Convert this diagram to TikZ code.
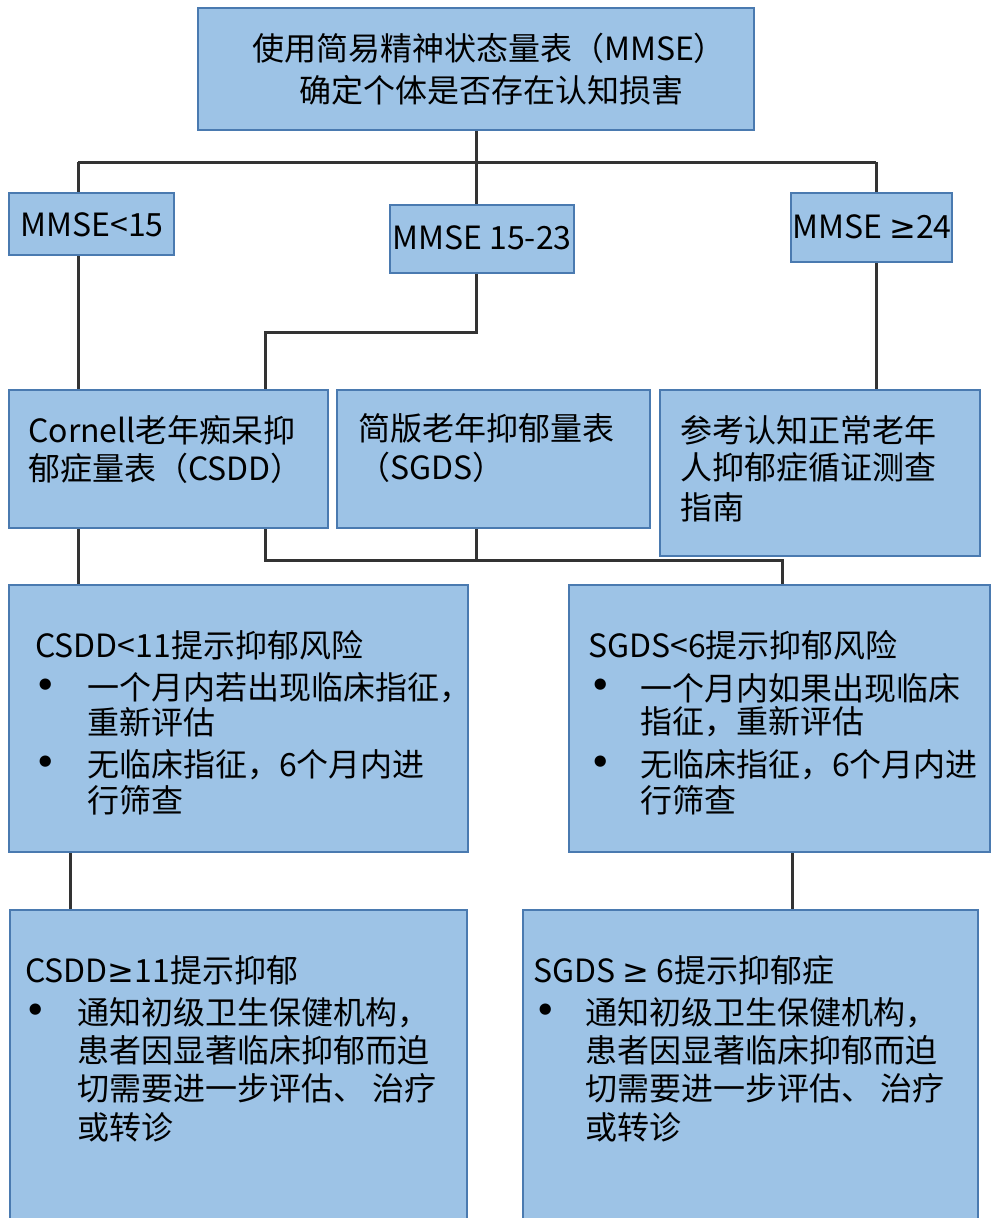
\documentclass[tikz,border=0pt]{standalone}
\usepackage{fontspec}
\setmainfont{Noto Sans CJK SC}
\newfontfamily\symf{DejaVu Sans}
\newcommand\mygeq{{\symf ≥}}
\newcommand\mybul{{\symf\bfseries •}}
\definecolor{boxfill}{HTML}{9DC3E6}
\definecolor{boxline}{HTML}{4A7AB0}
\definecolor{connc}{HTML}{333333}
\tikzset{
  box/.style={draw=boxline, fill=boxfill, line width=2pt, inner sep=0pt},
  conn/.style={draw=connc, line width=3pt},
  txt/.style={font=\fontsize{32}{38}\selectfont, inner sep=0pt, anchor=west, text=black},
  ctxt/.style={txt, anchor=center}
}
\begin{document}
\begin{tikzpicture}[x=1pt,y=-1pt]
\useasboundingbox (0,0) rectangle (992,1218);
\clip (0,0) rectangle (992,1218);
% boxes
\node[box, minimum width=556pt, minimum height=122pt] (top) at (476,69) {};
\node[box, minimum width=165pt, minimum height=62pt] (m1) at (91.5,224) {};
\node[box, minimum width=184pt, minimum height=68pt] (m2) at (482,239) {};
\node[box, minimum width=161pt, minimum height=69pt] (m3) at (871.5,227.5) {};
\node[box, minimum width=319pt, minimum height=138pt] (c1) at (168.5,459) {};
\node[box, minimum width=313pt, minimum height=138pt] (c2) at (493.5,459) {};
\node[box, minimum width=320pt, minimum height=166pt] (c3) at (820,473) {};
\node[box, minimum width=459pt, minimum height=267pt] (r1) at (238.5,718.5) {};
\node[box, minimum width=421pt, minimum height=267pt] (r2) at (779.5,718.5) {};
\node[box, minimum width=457pt, minimum height=330pt] (b1) at (238.5,1075) {};
\node[box, minimum width=455pt, minimum height=330pt] (b2) at (750.5,1075) {};
% connector joints
\coordinate (jL) at (78,162);
\coordinate (jM) at (476,162);
\coordinate (jR) at (876,162);
\coordinate (k1) at (476,332);
\coordinate (k2) at (265,332);
\coordinate (h1) at (265,560);
\coordinate (h2) at (476,560);
\coordinate (h3) at (782,560);
\coordinate (v1) at (70,880);
\coordinate (v2) at (792,880);
% connectors
\draw[conn] (top.south) -- (jM);
\draw[conn] (jL) -- (jR);
\draw[conn] (jL) -- (jL |- m1.north);
\draw[conn] (jM) -- (jM |- m2.north);
\draw[conn] (jR) -- (jR |- m3.north);
\draw[conn] (jL |- m1.south) -- (jL |- c1.north);
\draw[conn] (k1 |- m2.south) -- (k1) -- (k2) -- (k2 |- c1.north);
\draw[conn] (jR |- m3.south) -- (jR |- c3.north);
\draw[conn] (jL |- c1.south) -- (jL |- r1.north);
\draw[conn] (h1 |- c1.south) -- (h1) -- (h3) -- (h3 |- r2.north);
\draw[conn] (h2 |- c2.south) -- (h2);
\draw[conn] (v1 |- r1.south) -- (v1 |- b1.north);
\draw[conn] (v2 |- r2.south) -- (v2 |- b2.north);
% texts
\node[ctxt] (t1) at (489,48) {使用简易精神状态量表（MMSE）};
\node[ctxt] (t2) at (491,90) {确定个体是否存在认知损害};
\node[ctxt] (tm1) at (92,225) {MMSE<15};
\node[ctxt] (tm2) at (482,238) {MMSE 15-23};
\node[ctxt] (tm3) at (872,227) {MMSE \mygeq24};
\node[txt] (tc1a) at (28,430) {Cornell老年痴呆抑};
\node[txt] (tc1b) at (28,468) {郁症量表（CSDD）};
\node[txt] (tc2a) at (358,428) {简版老年抑郁量表};
\node[txt] (tc2b) at (358,467) {（SGDS）};
\node[txt] (tc3a) at (680,430) {参考认知正常老年};
\node[txt] (tc3b) at (680,467) {人抑郁症循证测查};
\node[txt] (tc3c) at (680,507) {指南};
% row 4 left
\node[txt] (tr1t) at (35,645) {CSDD<11提示抑郁风险};
\node[txt] (tr1b1) at (35,688) {\mybul};
\node[txt] (tr1a) at (87,688) {一个月内若出现临床指征，};
\node[txt] (tr1c) at (87,722) {重新评估};
\node[txt] (tr1b2) at (35,765) {\mybul};
\node[txt] (tr1d) at (87,765) {无临床指征，6个月内进};
\node[txt] (tr1e) at (87,800) {行筛查};
% row 4 right
\node[txt] (tr2t) at (588,645) {SGDS<6提示抑郁风险};
\node[txt] (tr2b1) at (590,688) {\mybul};
\node[txt] (tr2a) at (640,688) {一个月内如果出现临床};
\node[txt] (tr2c) at (640,722) {指征，重新评估};
\node[txt] (tr2b2) at (590,765) {\mybul};
\node[txt] (tr2d) at (640,765) {无临床指征，6个月内进};
\node[txt] (tr2e) at (640,800) {行筛查};
% row 5 left
\node[txt] (tb1t) at (25,970) {CSDD\mygeq11提示抑郁};
\node[txt] (tb1b) at (25,1013) {\mybul};
\node[txt] (tb1a) at (77,1013) {通知初级卫生保健机构，};
\node[txt] (tb1c) at (77,1050) {患者因显著临床抑郁而迫};
\node[txt] (tb1d) at (77,1088) {切需要进一步评估、 治疗};
\node[txt] (tb1e) at (77,1127) {或转诊};
% row 5 right
\node[txt] (tb2t) at (533,970) {SGDS \mygeq\ 6提示抑郁症};
\node[txt] (tb2b) at (535,1013) {\mybul};
\node[txt] (tb2a) at (585,1013) {通知初级卫生保健机构，};
\node[txt] (tb2c) at (585,1050) {患者因显著临床抑郁而迫};
\node[txt] (tb2d) at (585,1088) {切需要进一步评估、 治疗};
\node[txt] (tb2e) at (585,1127) {或转诊};
\end{tikzpicture}
\end{document}
